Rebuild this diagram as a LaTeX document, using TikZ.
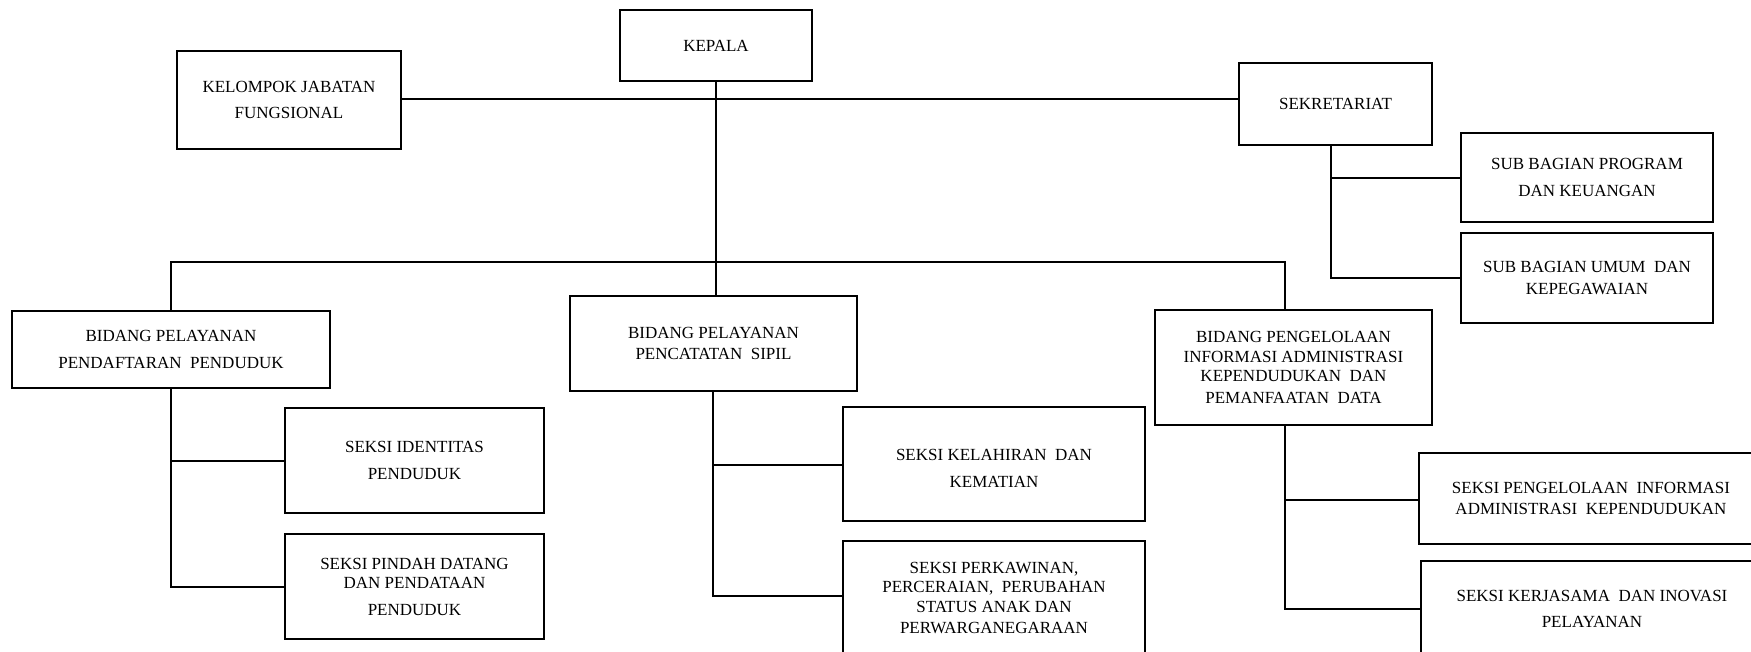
\documentclass[tikz,border=0pt]{standalone}
\usepackage{fontspec}
\setmainfont{Liberation Serif}
\begin{document}
\begin{tikzpicture}[x=1pt,y=-1pt,
  box/.style={draw, line width=2pt, align=center, inner sep=0pt,
    font=\fontsize{17}{19.5}\selectfont},
  conn/.style={line width=2pt}]
\useasboundingbox (0,0) rectangle (1751,652);
\clip (0,0) rectangle (1751,652);
% boxes
\node[box, minimum width=192, minimum height=71] (kepala) at (716,45.5) {\raisebox{-3pt}{KEPALA}};
\node[box, minimum width=224, minimum height=98] (kelompok) at (289,100) {KELOMPOK JABATAN\\[7pt] FUNGSIONAL};
\node[box, minimum width=193, minimum height=82] (sekre) at (1335.5,104) {SEKRETARIAT};
\node[box, minimum width=252, minimum height=89] (subprog) at (1587,177.5) {SUB BAGIAN PROGRAM\\[7pt] DAN KEUANGAN};
\node[box, minimum width=252, minimum height=90] (subumum) at (1587,278) {SUB BAGIAN UMUM\ \ DAN\\[3pt] KEPEGAWAIAN};
\node[box, minimum width=318, minimum height=77] (bpp) at (171,349.5) {BIDANG PELAYANAN\\[7pt] PENDAFTARAN\ \ PENDUDUK};
\node[box, minimum width=287, minimum height=95] (bpcs) at (713.5,343.5) {BIDANG PELAYANAN\\[2pt] PENCATATAN\ \ SIPIL};
\node[box, minimum width=277, minimum height=115] (bpi) at (1293.5,367.5) {BIDANG PENGELOLAAN\\ INFORMASI ADMINISTRASI\\ KEPENDUDUKAN\ \ DAN\\[2pt] PEMANFAATAN\ \ DATA};
\node[box, minimum width=259, minimum height=105] (sid) at (414.5,460.5) {SEKSI IDENTITAS\\[7pt] PENDUDUK};
\node[box, minimum width=259, minimum height=105] (spd) at (414.5,586.5) {SEKSI PINDAH DATANG\\ DAN PENDATAAN\\[7pt] PENDUDUK};
\node[box, minimum width=302, minimum height=114] (skl) at (994,464) {\\[0pt] SEKSI KELAHIRAN\ \ DAN\\[7pt] KEMATIAN};
\node[box, minimum width=302, minimum height=114] (spk) at (994,598) {SEKSI PERKAWINAN,\\ PERCERAIAN,\ \ PERUBAHAN\\ STATUS ANAK DAN\\[2pt] PERWARGANEGARAAN};
\node[box, minimum width=344, minimum height=91] (spi) at (1591,498.5) {\\[-8pt] SEKSI PENGELOLAAN\ \ INFORMASI\\[2pt] ADMINISTRASI\ \ KEPENDUDUKAN};
\node[box, minimum width=342, minimum height=96] (sks) at (1592,609) {SEKSI KERJASAMA\ \ DAN INOVASI\\[7pt] PELAYANAN};
% coordinates
\coordinate (top) at (716,99);
\coordinate (bus) at (716,262);
\coordinate (xpi) at (1285,0);
\coordinate (xsk) at (1331,0);
\coordinate (xcs) at (713,0);
% top line
\draw[conn] (kelompok.east |- top) -- (sekre.west |- top);
\draw[conn] (kepala.south) -- (kepala.south |- bpcs.north);
% bus
\draw[conn] (bpp.north) -- (bpp.north |- bus) -- (xpi |- bus) -- (xpi |- bpi.north);
% sekretariat branch
\draw[conn] (xsk |- sekre.south) -- (xsk |- subumum.west) -- (subumum.west);
\draw[conn] (xsk |- 0,178) -- (subprog.west |- 0,178);
% pendaftaran branch
\draw[conn] (bpp.south) -- (bpp.south |- 0,587) -- (spd.west |- 0,587);
\draw[conn] (bpp.south |- 0,461) -- (sid.west |- 0,461);
% pencatatan branch
\draw[conn] (xcs |- bpcs.south) -- (xcs |- 0,596) -- (spk.west |- 0,596);
\draw[conn] (xcs |- 0,465) -- (skl.west |- 0,465);
% pengelolaan branch
\draw[conn] (xpi |- bpi.south) -- (xpi |- sks.west) -- (sks.west);
\draw[conn] (xpi |- 0,500) -- (spi.west |- 0,500);
\end{tikzpicture}
\end{document}
